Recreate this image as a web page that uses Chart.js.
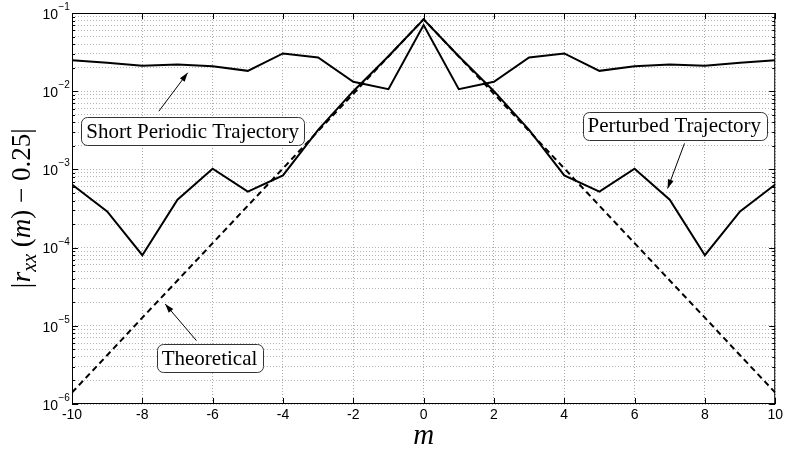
<!DOCTYPE html>
<html>
<head>
<meta charset="utf-8">
<script src="https://cdn.jsdelivr.net/npm/chart.js@4.4.1/dist/chart.umd.min.js"></script>
<style>
  html, body { margin: 0; padding: 0; background: #fff; }
</style>
</head>
<body>
<canvas id="myChart" width="786" height="450"></canvas>
<script>
// valeurs
const mValues = [-10, -9, -8, -7, -6, -5, -4, -3, -2, -1, 0, 1, 2, 3, 4, 5, 6, 7, 8, 9, 10];
const shortPeriodic = [0.0249, 0.0231, 0.0211, 0.0220, 0.0209, 0.0182, 0.0304, 0.0270, 0.0132, 0.0106, 0.0700,
  0.0106, 0.0132, 0.0270, 0.0304, 0.0182, 0.0209, 0.0220, 0.0211, 0.0231, 0.0249];
const perturbed = [6.4e-4, 2.9e-4, 8.0e-5, 4.1e-4, 1.02e-3, 5.2e-4, 8.4e-4, 3.2e-3, 1.0e-2, 0.028, 0.083,
  0.028, 1.0e-2, 3.2e-3, 8.4e-4, 5.2e-4, 1.02e-3, 4.1e-4, 8.0e-5, 2.9e-4, 6.4e-4];
const theoretical = [1.4e-6, 4.2e-6, 1.27e-5, 3.8e-5, 1.14e-4, 3.43e-4, 1.03e-3, 3.09e-3, 9.26e-3, 0.0278, 0.0833,
  0.0278, 9.26e-3, 3.09e-3, 1.03e-3, 3.43e-4, 1.14e-4, 3.8e-5, 1.27e-5, 4.2e-6, 1.4e-6];

const xTicks = [-10, -8, -6, -4, -2, 0, 2, 4, 6, 8, 10];
const yDecades = [1e-6, 1e-5, 1e-4, 1e-3, 1e-2, 1e-1];
const yExponents = ['\u22126', '\u22125', '\u22124', '\u22123', '\u22122', '\u22121'];
const yMantissas = [1, 2, 3, 4, 5, 6, 7, 8, 9];

const yGridValues = [];
yDecades.forEach((d, i) => {
  if (i === yDecades.length - 1) { yGridValues.push(d); return; }
  yMantissas.forEach(k => yGridValues.push(k * d));
});

const toPoints = arr => mValues.map((m, i) => ({ x: m, y: arr[i] }));

// encadré + ticks vers l'intérieur + titres des axes (style MATLAB)
const framePlugin = {
  id: 'frame',
  afterDraw(chart) {
    const { ctx, chartArea: a, scales: { x, y } } = chart;
    ctx.save();
    ctx.strokeStyle = '#000';
    ctx.lineWidth = 1;
    ctx.strokeRect(a.left + 0.5, a.top + 0.5, a.right - a.left - 1, a.bottom - a.top - 1);

    ctx.beginPath();
    yGridValues.forEach(v => {
      const py = Math.round(y.getPixelForValue(v)) + 0.5;
      const len = yDecades.includes(v) ? 6 : 3;
      ctx.moveTo(a.left, py); ctx.lineTo(a.left + len, py);
      ctx.moveTo(a.right, py); ctx.lineTo(a.right - len, py);
    });
    xTicks.forEach(v => {
      const px = Math.round(x.getPixelForValue(v)) + 0.5;
      ctx.moveTo(px, a.bottom); ctx.lineTo(px, a.bottom - 6);
      ctx.moveTo(px, a.top); ctx.lineTo(px, a.top + 6);
    });
    ctx.stroke();

    // étiquettes de l'axe y : 10^n
    ctx.fillStyle = '#000';
    yDecades.forEach((d, i) => {
      const py = y.getPixelForValue(d);
      ctx.font = '14px "Liberation Sans", Arial, sans-serif';
      ctx.textAlign = 'right';
      ctx.textBaseline = 'middle';
      ctx.fillText('10', 58, py + 2);
      ctx.font = '10px "Liberation Sans", Arial, sans-serif';
      ctx.textAlign = 'left';
      ctx.textBaseline = 'alphabetic';
      ctx.fillText(yExponents[i], 58.5, py - 3);
    });

    // titre x
    ctx.font = 'italic 29px "Liberation Serif", "Times New Roman", serif';
    ctx.textAlign = 'center';
    ctx.textBaseline = 'alphabetic';
    ctx.fillText('m', (a.left + a.right) / 2, 444);

    // titre y : |r_xx (m) − 0.25|
    const pieces = [
      { t: '|r', f: 'italic 27px "Liberation Serif", serif', dy: 0 },
      { t: 'xx', f: 'italic 20px "Liberation Serif", serif', dy: 6 },
      { t: ' (', f: '27px "Liberation Serif", serif', dy: 0 },
      { t: 'm', f: 'italic 27px "Liberation Serif", serif', dy: 0 },
      { t: ') \u2212 0.25|', f: '27px "Liberation Serif", serif', dy: 0 }
    ];
    let total = 0;
    pieces.forEach(p => { ctx.font = p.f; p.w = ctx.measureText(p.t).width; total += p.w; });
    ctx.translate(30, 209);
    ctx.rotate(-Math.PI / 2);
    ctx.textAlign = 'left';
    let cx = -total / 2;
    pieces.forEach(p => { ctx.font = p.f; ctx.fillText(p.t, cx, p.dy); cx += p.w; });
    ctx.restore();
  }
};

// boîtes de texte avec flèche
const calloutPlugin = {
  id: 'callouts',
  afterDatasetsDraw(chart, args, opts) {
    const { ctx, scales: { x, y } } = chart;
    opts.items.forEach(it => {
      ctx.save();
      const x1 = x.getPixelForValue(it.from[0]), y1 = y.getPixelForValue(it.from[1]);
      const x2 = x.getPixelForValue(it.to[0]), y2 = y.getPixelForValue(it.to[1]);
      ctx.strokeStyle = '#000';
      ctx.fillStyle = '#000';
      ctx.lineWidth = 1;
      ctx.beginPath(); ctx.moveTo(x1, y1); ctx.lineTo(x2, y2); ctx.stroke();
      const ang = Math.atan2(y2 - y1, x2 - x1);
      ctx.beginPath();
      ctx.moveTo(x2, y2);
      ctx.lineTo(x2 - 9 * Math.cos(ang) + 3 * Math.sin(ang), y2 - 9 * Math.sin(ang) - 3 * Math.cos(ang));
      ctx.lineTo(x2 - 9 * Math.cos(ang) - 3 * Math.sin(ang), y2 - 9 * Math.sin(ang) + 3 * Math.cos(ang));
      ctx.closePath(); ctx.fill();

      const cx = x.getPixelForValue(it.at[0]), cy = y.getPixelForValue(it.at[1]);
      ctx.font = opts.font;
      const w = ctx.measureText(it.text).width + 10, h = 28;
      ctx.beginPath();
      ctx.roundRect(Math.round(cx - w / 2) + 0.5, Math.round(cy - h / 2) + 0.5, Math.round(w), h, 6);
      ctx.fillStyle = '#fff'; ctx.fill();
      ctx.strokeStyle = '#333'; ctx.stroke();
      ctx.fillStyle = '#000';
      ctx.textAlign = 'center';
      ctx.textBaseline = 'middle';
      ctx.fillText(it.text, cx, cy + 1);
      ctx.restore();
    });
  }
};

const ctx = document.getElementById('myChart').getContext('2d');
new Chart(ctx, {
  type: 'line',
  data: {
    datasets: [
      { label: 'Short Periodic Trajectory', data: toPoints(shortPeriodic), borderColor: '#000', borderWidth: 2 },
      { label: 'Perturbed Trajectory', data: toPoints(perturbed), borderColor: '#000', borderWidth: 2 },
      { label: 'Theoretical', data: toPoints(theoretical), borderColor: '#000', borderWidth: 2, borderDash: [6, 4] }
    ]
  },
  options: {
    responsive: false,
    animation: false,
    devicePixelRatio: 1,
    layout: { padding: { top: 13, right: 9, left: 0, bottom: 0 } },
    elements: { point: { radius: 0 }, line: { tension: 0, fill: false } },
    plugins: {
      legend: { display: false },
      tooltip: { enabled: false },
      callouts: {
        font: '21px "Liberation Serif", "Times New Roman", serif',
        items: [
          { text: 'Short Periodic Trajectory', at: [-6.57, 3.07e-3], from: [-7.53, 5.55e-3], to: [-6.71, 0.0172] },
          { text: 'Perturbed Trajectory', at: [7.13, 3.6e-3], from: [7.42, 2.15e-3], to: [6.94, 5.7e-4] },
          { text: 'Theoretical', at: [-6.09, 3.83e-6], from: [-6.46, 6.46e-6], to: [-7.35, 1.9e-5] }
        ]
      }
    },
    scales: {
      x: {
        type: 'linear',
        min: -10, max: 10,
        afterBuildTicks: s => { s.ticks = xTicks.map(v => ({ value: v })); },
        afterFit: s => { s.height = 46; },
        ticks: { color: '#000', padding: 3, font: { family: '"Liberation Sans", Arial, sans-serif', size: 14 }, maxRotation: 0 },
        grid: { color: '#a8a8a8', lineWidth: 1, drawTicks: false },
        border: { display: false, dash: [1, 2] }
      },
      y: {
        type: 'logarithmic',
        min: 1e-6, max: 1e-1,
        afterBuildTicks: s => { s.ticks = yGridValues.map(v => ({ value: v })); },
        afterFit: s => { s.width = 72; },
        ticks: { display: false, autoSkip: false },
        grid: { color: '#b4b4b4', lineWidth: 1, drawTicks: false },
        border: { display: false, dash: [1, 2] }
      }
    }
  },
  plugins: [calloutPlugin, framePlugin]
});
</script>
</body>
</html>
